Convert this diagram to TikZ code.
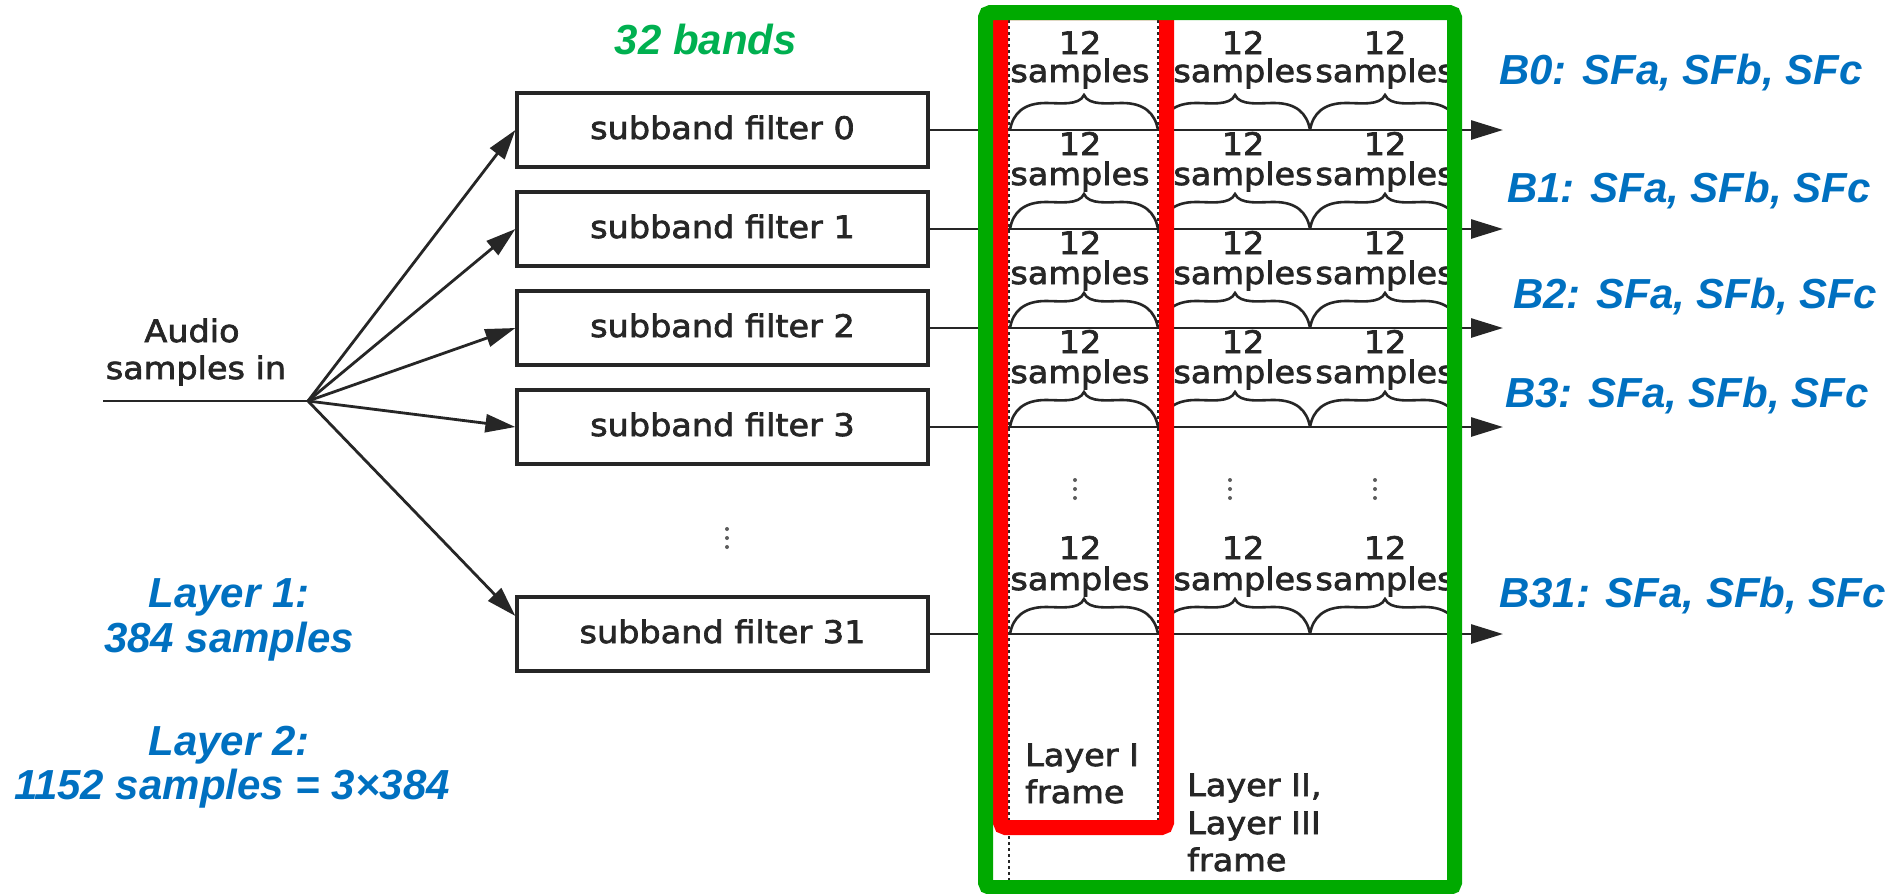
\documentclass[tikz,border=0pt]{standalone}
\usepackage{fontspec}
\usetikzlibrary{arrows.meta,calc}
\newfontfamily\scanfont[FakeStretch=1.08,FakeBold=2.2]{DejaVu Sans}
\newfontfamily\arialfont{Liberation Sans}
\definecolor{scan}{HTML}{262626}
\definecolor{frgreen}{HTML}{00AA00}
\definecolor{txtgreen}{HTML}{00B050}
\definecolor{txtblue}{HTML}{0070C0}
\definecolor{frred}{HTML}{FF0000}
\newcommand{\upbrace}[3]{%
  \draw[scanthin] ({#1},{#3}) .. controls ({#1+3},{#3-17}) and ({#1+14},{#3-27}) .. ({#1+36},{#3-27})
    .. controls ({(#1+#2)/2-24},{#3-27}) and ({(#1+#2)/2-5},{#3-24}) .. ({(#1+#2)/2},{#3-35})
    .. controls ({(#1+#2)/2+5},{#3-24}) and ({(#1+#2)/2+24},{#3-27}) .. ({#2-36},{#3-27})
    .. controls ({#2-14},{#3-27}) and ({#2-3},{#3-17}) .. ({#2},{#3});}
\begin{document}
\begin{tikzpicture}[x=1pt,y=-1pt,
  scantext/.style={font=\scanfont\fontsize{31}{37.5}\selectfont, text=scan, inner sep=0pt},
  filterbox/.style={draw=scan, line width=3.2pt, minimum width=411pt, minimum height=74pt,
    inner sep=0pt, text height=23pt, text depth=5pt, font=\scanfont\fontsize{31}{37.5}\selectfont, text=scan},
  scanline/.style={draw=scan, line width=2.8pt},
  scanthin/.style={draw=scan, line width=2.6pt},
  fanarrow/.style={scanline, -{Triangle[length=30pt,width=18pt]}},
  outarrow/.style={scanline, -{Triangle[length=32pt,width=19pt]}},
  lbl/.style={font=\arialfont\bfseries\itshape\fontsize{42}{50}\selectfont, text=txtblue, inner sep=0pt},
  dotline/.style={draw=scan, line width=2.8pt, dash pattern=on 2.5pt off 3.5pt}
]
\useasboundingbox (0,0) rectangle (1893,894);

% filter boxes
\node[filterbox] (b0) at (722.5,130) {subband filter 0};
\node[filterbox] (b1) at (722.5,229) {subband filter 1};
\node[filterbox] (b2) at (722.5,328) {subband filter 2};
\node[filterbox] (b3) at (722.5,427) {subband filter 3};
\node[filterbox] (b31) at (722.5,634) {subband filter 31};

% input
\node[scantext, anchor=base] (aud1) at (192,342) {Audio};
\node[scantext, anchor=base] (aud2) at (196,379) {samples in};
\coordinate (in) at (103,401);
\coordinate (F) at (308,401);
\draw[scanline] (in) -- (F);
\foreach \n in {0,1,2,3} \draw[fanarrow] (F) -- (b\n.west);
\draw[fanarrow] (F) -- ($(b31.west)+(0,-18)$);

% ellipsis between filters
\foreach \y in {529,538,547} \fill[scan!75] (727,\y) circle (2pt);

% outgoing lines
\foreach \n/\L in {0/130,1/229,2/328,3/427,31/634} {
  \coordinate (t\n) at (1503,\L);
  \draw[outarrow] (b\n.east) -- (t\n);
}

% dotted frame separators
\draw[dotline] (1009,20) -- (1009,880);
\draw[dotline] (1158,20) -- (1158,822);

% rows of "12 samples" with braces
\foreach \L/\dt/\ds [count=\r] in {130/76/48,229/74/44,328/74/44,427/74/44,634/75/44} {
  \foreach \cx [count=\c] in {1080,1243,1385} {
    \node[scantext, anchor=base] (tw-\r-\c) at ({\cx},{\L-\dt}) {12};
    \node[scantext, anchor=base] (sm-\r-\c) at ({\cx},{\L-\ds}) {samples};
  }
  \upbrace{1010}{1158}{\L}
  \upbrace{1160}{1310}{\L}
  \upbrace{1310}{1460}{\L}
}

% ellipsis in columns
\foreach \x in {1075,1230,1375} \foreach \y in {480,489,498} \fill[scan!75] (\x,\y) circle (2pt);

% frame labels
\node[scantext, anchor=base west] (l1a) at (1025,766) {Layer I};
\node[scantext, anchor=base west] (l1b) at (1025,803) {frame};
\node[scantext, anchor=base west] (l2a) at (1187,796) {Layer II,};
\node[scantext, anchor=base west] (l2b) at (1187,834) {Layer III};
\node[scantext, anchor=base west] (l2c) at (1187,871) {frame};

% highlight frames
\draw[frred, line width=15pt, rounded corners=5pt] (1000.5,12.5) rectangle (1166.5,827.5);
\draw[frgreen, line width=15pt, rounded corners=5pt] (985.5,12.5) rectangle (1454.5,887.5);

% annotations
\node[lbl, text=txtgreen, anchor=base] (bands) at (706,54) {32 bands};
\node[lbl, anchor=base west] (lb0) at (1499,84) {B0: SFa, SFb, SFc};
\node[lbl, anchor=base west] (lb1) at (1507,202) {B1: SFa, SFb, SFc};
\node[lbl, anchor=base west] (lb2) at (1513,308) {B2: SFa, SFb, SFc};
\node[lbl, anchor=base west] (lb3) at (1505,407) {B3: SFa, SFb, SFc};
\node[lbl, anchor=base west] (lb31) at (1499,607) {B31: SFa, SFb, SFc};
\node[lbl, anchor=base] (ly1a) at (229,607) {Layer 1:};
\node[lbl, anchor=base] (ly1b) at (229,652) {384 samples};
\node[lbl, anchor=base] (ly2a) at (229,755) {Layer 2:};
\node[lbl, anchor=base] (ly2b) at (232,799) {1152 samples = 3×384};
\end{tikzpicture}
\end{document}
